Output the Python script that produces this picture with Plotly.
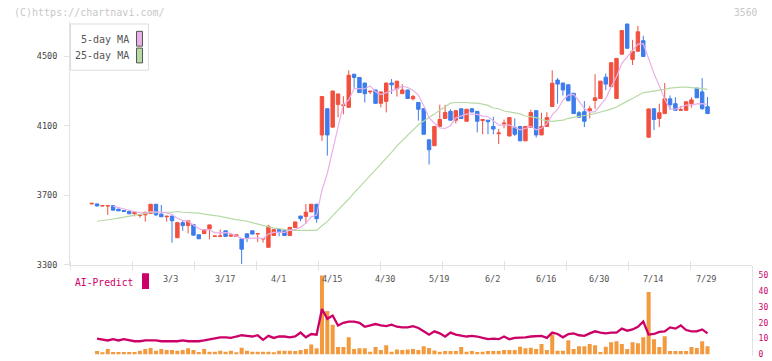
import plotly.graph_objects as go
import pandas as pd

# ---- data ----
open_ = [3650, 3650, 3638, 3638, 3640, 3620, 3612, 3606, 3593, 3583,
         3587, 3595, 3648, 3591, 3576, 3580, 3455, 3542, 3525, 3531,
         3472, 3479, 3506, 3463, 3463, 3495, 3464, 3462, 3449, 3478,
         3495, 3477, 3448, 3400, 3468, 3502, 3495, 3468, 3514, 3580,
         3578, 3604, 3648, 4047, 4198, 4092, 4223, 4216, 4206, 4397,
         4378, 4346, 4295, 4306, 4229, 4240, 4346, 4313, 4285, 4306,
         4255, 4234, 4198, 4019, 3985, 4096, 4142, 4183, 4132, 4198,
         4126, 4198, 4183, 4130, 4132, 4096, 4054, 4111, 4041, 4090,
         4096, 4013, 4090, 4187, 4047, 4096, 4211, 4363, 4346, 4336,
         4287, 4175, 4181, 4187, 4245, 4257, 4380, 4325, 4257, 4512,
         4686, 4482, 4529, 4590, 4034, 4198, 4142, 4170, 4255, 4227,
         4189, 4189, 4227, 4317, 4295, 4210]
high = [3655, 3651, 3641, 3641, 3641, 3622, 3614, 3607, 3603, 3586,
        3603, 3649, 3649, 3644, 3580, 3581, 3543, 3555, 3554, 3532,
        3473, 3503, 3530, 3466, 3502, 3496, 3483, 3473, 3450, 3479,
        3496, 3480, 3451, 3529, 3503, 3503, 3496, 3516, 3547, 3581,
        3650, 3649, 3649, 4270, 4199, 4301, 4284, 4270, 4420, 4398,
        4379, 4347, 4300, 4307, 4296, 4347, 4369, 4358, 4340, 4307,
        4278, 4235, 4199, 4020, 4097, 4221, 4221, 4195, 4188, 4199,
        4196, 4199, 4184, 4137, 4133, 4151, 4081, 4136, 4148, 4142,
        4097, 4097, 4193, 4188, 4175, 4178, 4419, 4374, 4347, 4337,
        4288, 4185, 4242, 4215, 4397, 4358, 4401, 4464, 4489, 4649,
        4687, 4595, 4675, 4618, 4198, 4199, 4227, 4346, 4274, 4264,
        4213, 4239, 4264, 4318, 4374, 4266]
low = [3648, 3635, 3636, 3587, 3612, 3608, 3604, 3592, 3578, 3570,
       3548, 3594, 3580, 3575, 3548, 3427, 3454, 3495, 3480, 3469,
       3448, 3478, 3446, 3462, 3461, 3462, 3461, 3461, 3304, 3430,
       3475, 3430, 3427, 3399, 3467, 3464, 3467, 3467, 3513, 3550,
       3536, 3603, 3542, 4013, 3928, 4090, 4149, 4166, 4205, 4319,
       4290, 4234, 4283, 4225, 4206, 4177, 4283, 4268, 4284, 4256,
       4246, 4130, 4050, 3877, 3984, 4095, 4141, 4131, 4113, 4141,
       4125, 4178, 4062, 4051, 4051, 4051, 3994, 4085, 4040, 4041,
       4012, 4012, 4089, 4032, 4046, 4095, 4210, 4227, 4274, 4243,
       4169, 4148, 4092, 4142, 4198, 4256, 4306, 4324, 4256, 4511,
       4545, 4450, 4528, 4498, 4030, 4075, 4092, 4169, 4193, 4188,
       4188, 4188, 4204, 4260, 4193, 4169]
close = [3653, 3638, 3640, 3640, 3614, 3610, 3606, 3593, 3602, 3585,
         3602, 3648, 3587, 3576, 3579, 3553, 3542, 3525, 3553, 3470,
         3449, 3502, 3529, 3465, 3465, 3463, 3470, 3472, 3389, 3457,
         3476, 3479, 3450, 3521, 3502, 3487, 3468, 3515, 3546, 3565,
         3602, 3648, 3565, 4268, 4047, 4300, 4283, 4220, 4391, 4378,
         4291, 4285, 4299, 4229, 4295, 4346, 4336, 4357, 4306, 4257,
         4268, 4195, 4051, 3962, 4096, 4136, 4176, 4132, 4187, 4142,
         4195, 4179, 4126, 4136, 4123, 4081, 4058, 4115, 4147, 4051,
         4013, 4096, 4176, 4047, 4096, 4147, 4345, 4340, 4306, 4244,
         4170, 4149, 4126, 4198, 4261, 4357, 4340, 4463, 4488, 4648,
         4546, 4529, 4641, 4499, 4197, 4136, 4175, 4255, 4221, 4189,
         4193, 4238, 4249, 4261, 4198, 4170]
ma25 = [None, 3550, 3553, 3559, 3563, 3568, 3574, 3578, 3583, 3589,
        3595, 3599, 3601, 3601, 3602, 3602, 3606, 3602, 3601, 3599,
        3597, 3591, 3589, 3583, 3578, 3570, 3565, 3559, 3555, 3550,
        3542, 3533, 3525, 3517, 3510, 3508, 3502, 3498, 3497, 3497,
        3498, 3498, 3497, 3524, 3548, 3582, 3613, 3641, 3678, 3714,
        3747, 3780, 3812, 3846, 3879, 3913, 3947, 3984, 4015, 4046,
        4078, 4106, 4128, 4146, 4167, 4189, 4210, 4230, 4234, 4236,
        4234, 4230, 4230, 4225, 4217, 4202, 4198, 4185, 4179, 4174,
        4168, 4156, 4151, 4147, 4136, 4128, 4125, 4128, 4132, 4143,
        4149, 4155, 4159, 4162, 4170, 4177, 4189, 4196, 4208, 4227,
        4242, 4257, 4272, 4291, 4295, 4299, 4302, 4310, 4317, 4321,
        4323, 4323, 4321, 4317, 4314, 4310]
volume_bar = [None, 2.1, 1.3, 3.3, 1.5, 1.5, 1.5, 1.5, 1.5, 2.3,
              3.3, 4.0, 2.3, 3.3, 2.7, 2.7, 2.3, 2.7, 3.8, 2.7,
              1.5, 3.3, 1.7, 1.7, 2.3, 1.7, 2.3, 1.3, 4.2, 2.3,
              1.7, 1.7, 1.7, 1.7, 1.3, 2.3, 2.3, 2.3, 2.1, 2.7,
              3.3, 6.3, 3.8, 50.0, 27.5, 18.8, 4.6, 4.6, 10.8, 3.3,
              3.8, 3.8, 1.7, 4.6, 2.7, 5.8, 1.7, 3.1, 2.7, 3.1,
              3.3, 2.7, 5.2, 4.0, 2.5, 1.7, 2.1, 2.1, 2.1, 4.6,
              1.7, 2.1, 1.5, 1.7, 2.1, 2.1, 2.1, 2.7, 2.7, 2.7,
              4.8, 3.8, 4.2, 3.3, 6.5, 2.7, 12.5, 2.3, 2.3, 9.0,
              3.3, 5.2, 5.2, 6.5, 5.8, 1.5, 4.8, 7.7, 8.3, 6.5,
              3.3, 7.7, 7.1, 10.8, 39.6, 9.6, 4.6, 11.5, 2.1, 2.1,
              2.1, 2.1, 4.6, 4.0, 8.3, 5.2]
ai_predict = [None, 10.0, 9.6, 8.8, 9.6, 8.8, 9.6, 8.8, 8.3, 8.3,
              8.8, 8.8, 8.8, 8.3, 8.3, 8.3, 8.3, 8.8, 8.3, 8.3,
              8.3, 8.8, 9.6, 10.0, 10.8, 10.8, 10.4, 11.3, 12.1, 11.7,
              11.3, 12.1, 9.2, 11.7, 10.4, 11.3, 11.3, 10.8, 11.3, 13.8,
              10.8, 12.9, 12.5, 28.8, 22.5, 24.6, 18.3, 20.0, 20.8, 20.8,
              20.0, 17.5, 18.3, 19.2, 18.3, 17.9, 18.8, 17.5, 17.1, 17.1,
              17.9, 16.7, 14.6, 12.5, 14.6, 13.3, 11.3, 13.8, 12.5, 12.1,
              11.3, 11.7, 11.3, 10.4, 9.6, 10.0, 9.6, 11.3, 9.6, 10.4,
              10.4, 10.8, 11.3, 11.7, 11.7, 10.4, 13.8, 12.9, 10.8, 12.9,
              13.3, 12.1, 11.7, 13.3, 14.6, 13.8, 13.3, 13.8, 13.8, 16.3,
              15.0, 15.8, 17.5, 20.8, 12.5, 12.9, 14.2, 14.6, 17.1, 16.3,
              18.3, 15.4, 14.6, 14.6, 15.8, 13.3]
tick_labels = ["3/3", "3/17", "4/1", "4/15", "4/30", "5/19",
               "6/2", "6/16", "6/30", "7/14", "7/29"]
tick_idx = [15, 25, 35, 45, 55, 65, 75, 85, 95, 105, 115]
price_ticks = [3300, 3700, 4100, 4500]
sub_ticks = [0, 10, 20, 30, 40, 50]

x = list(range(len(close)))
ma5 = pd.Series(close).rolling(5).mean().tolist()

# ---- styling ----
FONT = "DejaVu Sans Mono"
RED = "#f2503f"
BLUE = "#3d7cec"
PINK = "#e8b0e8"
GREEN = "#b6daa4"
ORANGE = "#f39a3e"
MAGENTA = "#cc0066"
AXIS = "#e2e2e2"

W, HGT = 772, 361
ML, MR, MT, MB = 70, 20, 22, 0
PW, PH = W - ML - MR, HGT - MT - MB


def fx(px):
    return (px - ML) / PW


def fy(py):
    return (HGT - MB - py) / PH


px_per_idx = 5.355
x_left = -(91.7 - ML) / px_per_idx
x_right = x_left + PW / px_per_idx

fig = go.Figure()

fig.add_trace(go.Candlestick(
    x=x, open=open_, high=high, low=low, close=close,
    increasing=dict(line=dict(color=RED, width=1), fillcolor=RED),
    decreasing=dict(line=dict(color=BLUE, width=1), fillcolor=BLUE),
    whiskerwidth=0, showlegend=False, hoverinfo="skip",
    xaxis="x", yaxis="y"))
fig.add_trace(go.Scatter(x=x, y=ma25, mode="lines",
                         line=dict(color=GREEN, width=1.2),
                         showlegend=False, hoverinfo="skip",
                         xaxis="x", yaxis="y"))
fig.add_trace(go.Scatter(x=x, y=ma5, mode="lines",
                         line=dict(color=PINK, width=1.2),
                         showlegend=False, hoverinfo="skip",
                         xaxis="x", yaxis="y"))

fig.add_trace(go.Bar(x=x, y=volume_bar, marker=dict(color=ORANGE, line=dict(width=0)),
                     showlegend=False, hoverinfo="skip",
                     xaxis="x2", yaxis="y2"))
fig.add_trace(go.Scatter(x=x, y=ai_predict, mode="lines",
                         line=dict(color=MAGENTA, width=2.3),
                         showlegend=False, hoverinfo="skip",
                         xaxis="x2", yaxis="y2"))

tick_step = 62 / px_per_idx
tick_start = x_left + 0.3 / px_per_idx

fig.update_layout(
    width=W, height=HGT,
    margin=dict(l=ML, r=MR, t=MT, b=MB, pad=0),
    paper_bgcolor="white", plot_bgcolor="white",
    font=dict(family=FONT, size=9, color="#555555"),
    boxgap=0.08, bargap=0.25,
    showlegend=False,
    xaxis=dict(range=[x_left, x_right], domain=[0, 1], anchor="y",
               showgrid=False, zeroline=False, showline=True,
               linecolor=AXIS, linewidth=1,
               tickmode="linear", tick0=tick_start, dtick=tick_step,
               ticks="outside", ticklen=4, tickcolor=AXIS,
               showticklabels=False,
               rangeslider=dict(visible=False)),
    yaxis=dict(domain=[fy(268.3), 1],
               range=[3300, 3300 + (268.3 - MT) * 5.674],
               anchor="x", showgrid=False, zeroline=False,
               showline=True, linecolor=AXIS, linewidth=1,
               tickmode="array", tickvals=price_ticks,
               ticks="outside", ticklen=5, tickcolor=AXIS,
               ticklabelstandoff=5,
               tickfont=dict(family=FONT, size=8.5, color="#444444")),
    xaxis2=dict(range=[x_left, x_right], domain=[0, 1], anchor="y2",
                matches="x", side="top",
                showgrid=False, zeroline=False, showline=False,
                tickmode="linear", tick0=tick_start, dtick=tick_step,
                ticks="outside", ticklen=4, tickcolor=AXIS,
                showticklabels=False),
    yaxis2=dict(domain=[0, fy(270)],
                range=[-(361 - 359.3) / 1.6, (359.3 - 270) / 1.6],
                anchor="x2", side="right",
                showgrid=False, zeroline=False,
                showline=True, linecolor=AXIS, linewidth=1,
                tickmode="array", tickvals=sub_ticks,
                ticks="", ticklabelstandoff=4,
                tickfont=dict(family=FONT, size=8, color=MAGENTA)),
)

annotations = []
# date labels in the lower panel
for idx, lab in zip(tick_idx, tick_labels):
    annotations.append(dict(x=idx - 0.2, y=fy(282.5), xref="x", yref="paper",
                            text=lab, showarrow=False, xanchor="center",
                            yanchor="middle",
                            font=dict(family=FONT, size=8.5, color="#555555")))
# watermark + code
annotations.append(dict(x=fx(12), y=fy(12.5), xref="paper", yref="paper",
                        text="(C)https://chartnavi.com/", showarrow=False,
                        xanchor="left", yanchor="middle",
                        font=dict(family=FONT, size=10, color="#c8c8c8")))
annotations.append(dict(x=fx(758.5), y=fy(12.5), xref="paper", yref="paper",
                        text="3560", showarrow=False,
                        xanchor="right", yanchor="middle",
                        font=dict(family=FONT, size=9.7, color="#c8c8c8")))
# legend texts
annotations.append(dict(x=fx(131), y=fy(39.5), xref="paper", yref="paper",
                        text="5-day MA", showarrow=False,
                        xanchor="right", yanchor="middle",
                        font=dict(family=FONT, size=10, color="#555555")))
annotations.append(dict(x=fx(131), y=fy(56.5), xref="paper", yref="paper",
                        text="25-day MA", showarrow=False,
                        xanchor="right", yanchor="middle",
                        font=dict(family=FONT, size=10, color="#555555")))
# AI-Predict label
annotations.append(dict(x=fx(73), y=fy(286), xref="paper", yref="paper",
                        text="AI-Predict", showarrow=False,
                        xanchor="left", yanchor="middle",
                        font=dict(family=FONT, size=9.7, color=MAGENTA)))
fig.update_layout(annotations=annotations)

shapes = [
    # legend box
    dict(type="rect", xref="paper", yref="paper",
         x0=fx(70.5), x1=fx(148.5), y0=fy(71), y1=fy(24),
         fillcolor="white", line=dict(color="#dddddd", width=1), layer="above"),
    dict(type="rect", xref="paper", yref="paper",
         x0=fx(136.5), x1=fx(142.5), y0=fy(46.5), y1=fy(31.5),
         fillcolor=PINK, line=dict(color="#555555", width=1), layer="above"),
    dict(type="rect", xref="paper", yref="paper",
         x0=fx(136.5), x1=fx(142.5), y0=fy(63.5), y1=fy(48.5),
         fillcolor=GREEN, line=dict(color="#555555", width=1), layer="above"),
    # AI-Predict swatch
    dict(type="rect", xref="paper", yref="paper",
         x0=fx(142), x1=fx(149), y0=fy(293), y1=fy(277),
         fillcolor=MAGENTA, line=dict(width=0), layer="above"),
]
fig.update_layout(shapes=shapes)

fig.write_html("out.html")
